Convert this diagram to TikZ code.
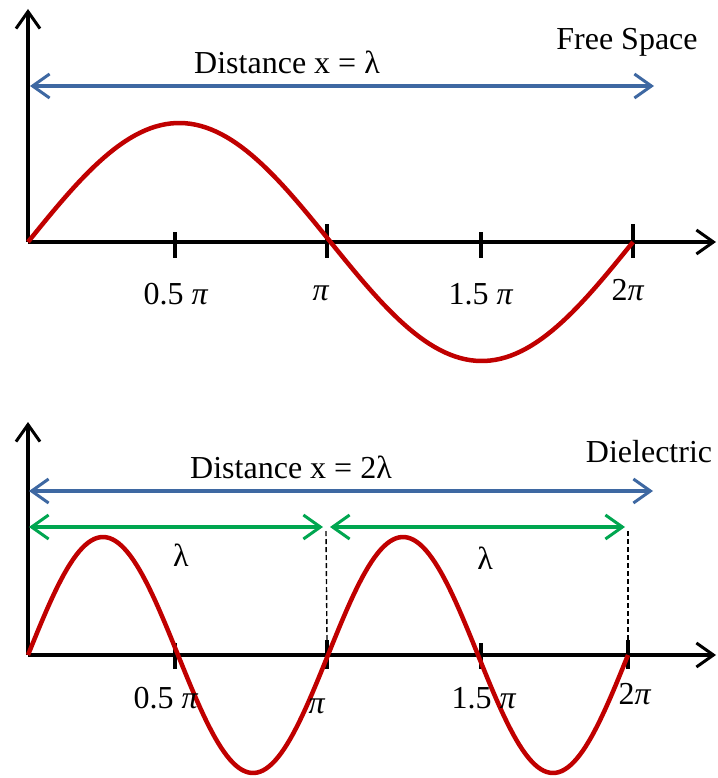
\documentclass[tikz,border=0pt]{standalone}
\usepackage{fontspec}
\setmainfont{Liberation Serif}
\usetikzlibrary{arrows.meta}
\definecolor{wavered}{RGB}{192,0,0}
\definecolor{distblue}{RGB}{62,104,162}
\definecolor{lamgreen}{RGB}{0,166,80}
\tikzset{barb/.tip={Straight Barb[length=17pt,width=24pt,line width=3pt]}}
\begin{document}
\begin{tikzpicture}[x=1pt,y=-1pt,
  axisline/.style={line width=3.2pt,-{barb}},
  tickline/.style={line width=3.5pt},
  wave/.style={line width=4.5pt,wavered,line join=round},
  distarrow/.style={line width=3.5pt,distblue,{barb}-{barb}},
  lamarrow/.style={line width=3.5pt,lamgreen,{barb}-{barb}},
  guide/.style={line width=1.4pt,dash pattern=on 5pt off 3pt},
  lbl/.style={font=\fontsize{32}{37}\selectfont,inner sep=0pt,anchor=base}]
\useasboundingbox (0,0) rectangle (717,778);
% ---------- top panel ----------
\coordinate (o1) at (28,242);
\coordinate (y1) at (28,9);
\coordinate (x1) at (716,242);
\draw[axisline] (o1) -- (y1);
\draw[axisline] (o1) -- (x1);
\foreach \n/\x/\t in {a/175/232,b/327/224,c/481/232,d/633/224}{
  \coordinate (t1\n u) at (\x,\t);
  \coordinate (t1\n d) at (\x,258);
  \draw[tickline] (t1\n u) -- (t1\n d);
}
\draw[wave] plot[domain=0:360,samples=120] ({28+1.680556*\x},{242-119*sin(\x)});
\coordinate (b1l) at (30,86);
\coordinate (b1r) at (654,86);
\draw[distarrow] (b1l) -- (b1r);
\node[lbl] (d1) at (287,74) {Distance x = λ};
\node[lbl] (fs) at (627,50) {Free Space};
\node[lbl] (l1a) at (176,304) {0.5 \textit{π}};
\node[lbl] (l1b) at (321,300) {\textit{π}};
\node[lbl] (l1c) at (481,304) {1.5 \textit{π}};
\node[lbl] (l1d) at (628,300) {2\textit{π}};
% ---------- bottom panel ----------
\coordinate (o2) at (28,655);
\coordinate (y2) at (28,422);
\coordinate (x2) at (716,655);
\draw[axisline] (o2) -- (y2);
\draw[axisline] (o2) -- (x2);
\foreach \n/\x/\t in {a/175/643,b/327/640,c/481/643,d/628/640}{
  \coordinate (t2\n u) at (\x,\t);
  \coordinate (t2\n d) at (\x,669);
  \draw[tickline] (t2\n u) -- (t2\n d);
}
\coordinate (g1u) at (326,531);
\coordinate (g2u) at (628,531);
\draw[guide] (g1u) -- (t2bu);
\draw[guide] (g2u) -- (t2du);
\draw[wave] plot[domain=0:720,samples=200] ({28+0.833333*\x},{655-118*sin(\x)});
\coordinate (b2l) at (29,491);
\coordinate (b2r) at (653,491);
\draw[distarrow] (b2l) -- (b2r);
\coordinate (ga) at (29,527);
\coordinate (gb) at (323,527);
\coordinate (gc) at (330,527);
\coordinate (gd) at (625,527);
\draw[lamarrow] (ga) -- (gb);
\draw[lamarrow] (gc) -- (gd);
\node[lbl] (d2) at (291,478) {Distance x = 2λ};
\node[lbl] (de) at (649,462) {Dielectric};
\node[lbl] (lam1) at (181,566) {λ};
\node[lbl] (lam2) at (485,569) {λ};
\node[lbl] (l2a) at (166,708) {0.5 \textit{π}};
\node[lbl] (l2b) at (317,713) {\textit{π}};
\node[lbl] (l2c) at (484,708) {1.5 \textit{π}};
\node[lbl] (l2d) at (635,704) {2\textit{π}};
\end{tikzpicture}
\end{document}
